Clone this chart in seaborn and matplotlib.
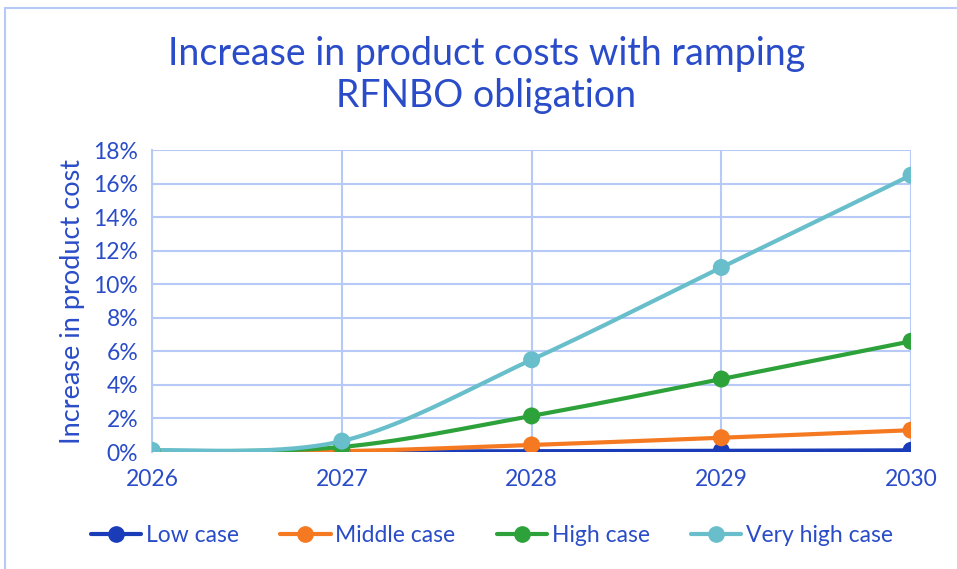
"""
Line chart: increase in product costs with ramping RFNBO obligation
"""
import numpy as np
import pandas as pd
import matplotlib
matplotlib.use('Agg')
import matplotlib.pyplot as plt
from matplotlib.lines import Line2D
from matplotlib.patches import Rectangle
import seaborn as sns

# Data (percent)
years = [2026, 2027, 2028, 2029, 2030]
low_case = [0.0, 0.02, 0.05, 0.07, 0.1]
middle_case = [0.0, 0.05, 0.42, 0.85, 1.3]
high_case = [0.05, 0.3, 2.15, 4.35, 6.6]
very_high_case = [0.1, 0.65, 5.5, 11.0, 16.5]

series_names = ['Low case', 'Middle case', 'High case', 'Very high case']
series_values = [low_case, middle_case, high_case, very_high_case]
colors = ['#1A3CB8', '#F47920', '#2EA23A', '#68BFCB']

text_color = '#2A4CC8'
grid_color = '#B7CAF7'

sns.set_theme(style='white')
plt.rcParams['font.family'] = ['Lato', 'DejaVu Sans']


def smooth(xs, ys, n=40):
    # Excel-style smoothed line (cubic Bezier through each point)
    xs = np.asarray(xs, float)
    ys = np.asarray(ys, float)
    px = np.concatenate([[xs[0]], xs, [xs[-1]]])
    py = np.concatenate([[ys[0]], ys, [ys[-1]]])
    out_x, out_y = [], []
    t = np.linspace(0, 1, n)
    for i in range(1, len(px) - 2):
        p0 = np.array([px[i], py[i]])
        p3 = np.array([px[i + 1], py[i + 1]])
        c1 = p0 + (np.array([px[i + 1], py[i + 1]]) - np.array([px[i - 1], py[i - 1]])) / 6
        c2 = p3 - (np.array([px[i + 2], py[i + 2]]) - np.array([px[i], py[i]])) / 6
        b = ((1 - t) ** 3)[:, None] * p0 + (3 * (1 - t) ** 2 * t)[:, None] * c1 \
            + (3 * (1 - t) * t ** 2)[:, None] * c2 + (t ** 3)[:, None] * p3
        out_x.extend(b[:, 0])
        out_y.extend(b[:, 1])
    return out_x, out_y


fig = plt.figure(figsize=(9.57, 5.69), dpi=100)
ax = fig.add_axes([0.159, 0.2056, 0.793, 0.5307])

for name, vals, col in zip(series_names, series_values, colors):
    sx, sy = smooth(years, vals)
    curve = pd.DataFrame({'year': sx, 'value': sy})
    sns.lineplot(data=curve, x='year', y='value', ax=ax, color=col,
                 linewidth=3, sort=False, estimator=None, zorder=3)
    pts = pd.DataFrame({'year': years, 'value': vals})
    sns.scatterplot(data=pts, x='year', y='value', ax=ax, color=col,
                    s=150, edgecolor='none', zorder=4)

ax.set_xlim(2026, 2030)
ax.set_ylim(0, 18)
ax.set_xticks(years)
ax.set_yticks(range(0, 19, 2))
ax.set_yticklabels([f'{v}%' for v in range(0, 19, 2)])
ax.grid(True, color=grid_color, linewidth=1.5, zorder=0)
ax.set_axisbelow(True)
for side in ['top', 'right', 'bottom']:
    ax.spines[side].set_visible(False)
ax.spines['left'].set_color(grid_color)
ax.spines['left'].set_linewidth(1.5)
ax.tick_params(axis='both', length=0, labelsize=16.5, colors=text_color)
ax.tick_params(axis='x', pad=12)
ax.tick_params(axis='y', pad=10)
ax.set_xlabel('')
ax.set_ylabel('Increase in product cost', fontsize=19.5, color=text_color, labelpad=6)

fig.text(0.508, 0.80, 'Increase in product costs with ramping\nRFNBO obligation',
         ha='center', va='bottom', fontsize=27, color=text_color,
         linespacing=1.2)

handles = [Line2D([0], [0], color=c, linewidth=3, marker='o', markersize=11)
           for c in colors]
leg = fig.legend(handles, series_names, loc='center', bbox_to_anchor=(0.514, 0.058),
                 ncol=4, frameon=False, fontsize=16.5, handlelength=2.2,
                 handletextpad=0.2, columnspacing=1.8)
for t in leg.get_texts():
    t.set_color(text_color)

# light border around the chart area
fig.patches.append(Rectangle((0.005, -0.05), 1.1, 1.036, transform=fig.transFigure,
                             fill=False, edgecolor=grid_color, linewidth=1.5))

fig.savefig('out.png', dpi=100)
print('saved out.png')
